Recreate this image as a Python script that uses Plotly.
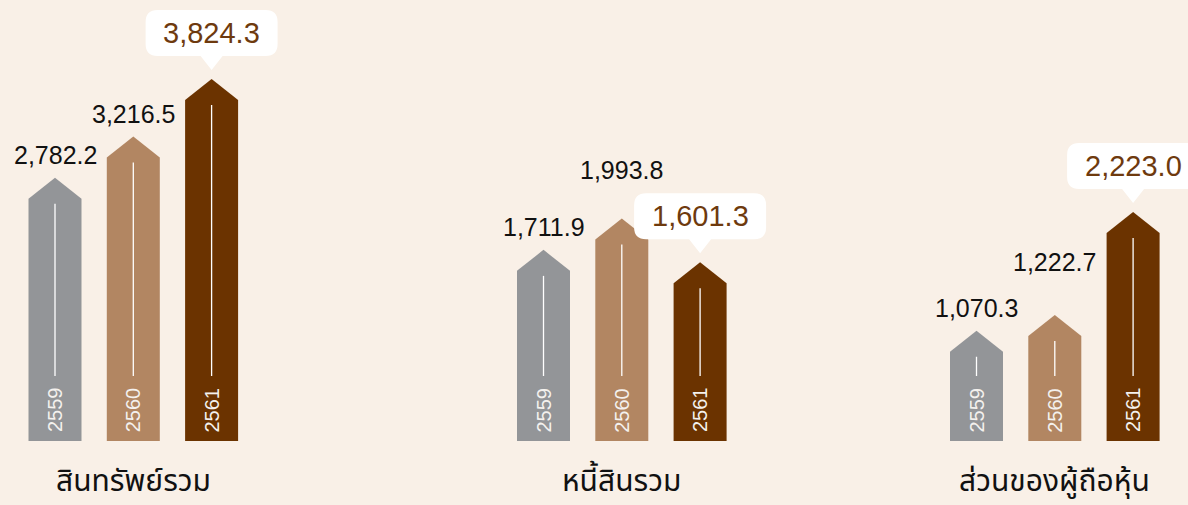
import plotly.graph_objects as go

# ---------------- data ----------------
years = ["2559", "2560", "2561"]
categories = ["สินทรัพย์รวม", "หนี้สินรวม", "ส่วนของผู้ถือหุ้น"]
total_assets = [2782.2, 3216.5, 3824.3]
total_liabilities = [1711.9, 1993.8, 1601.3]
shareholders_equity = [1070.3, 1222.7, 2223.0]
series = [total_assets, total_liabilities, shareholders_equity]

# ---------------- style / layout ----------------
W, H = 1188, 505
BG = "#F9F0E7"
bar_colors = ["#939598", "#B28662", "#6B3300"]
callout_text_color = "#6E3A0E"
FONT = "Liberation Sans, Arial, Helvetica, sans-serif"
THAI_FONT = "Noto Sans Thai, Loma, Garuda, Tlwg Typo, Noto Sans, sans-serif"

BASE_PX = 441            # bar base, pixels from top
first_center_px = [55, 543.5, 976.5]
slot = 78.3              # pixels between bar centres
half_w = 26.5 / slot     # bar half width in category units
y_max = [4660, 3950, 4280]
tip_px = 21
plot_h = BASE_PX
ydom = [(H - BASE_PX) / H, 1.0]
# extra upward offsets (px) for labels lifted clear of neighbours
label_lift = {(1, 1): 25, (2, 1): 30}

fig = go.Figure()
annotations = []
shapes = []
layout_axes = {}

for g, vals in enumerate(series):
    xa = "x" if g == 0 else f"x{g+1}"
    ya = "y" if g == 0 else f"y{g+1}"
    left = first_center_px[g] - slot / 2
    right = min(W, left + 4 * slot)
    xrange_end = -0.5 + (right - left) / slot
    u = y_max[g] / plot_h   # data units per pixel
    suffix = "" if g == 0 else str(g + 1)
    layout_axes[f"xaxis{suffix}"] = dict(domain=[left / W, right / W], range=[-0.5, xrange_end],
                                         visible=False, fixedrange=True)
    layout_axes[f"yaxis{suffix}"] = dict(domain=ydom, range=[0, y_max[g]], visible=False,
                                         fixedrange=True)
    d = tip_px * u
    for i, v in enumerate(vals):
        # arrow-shaped bar
        fig.add_trace(go.Scatter(
            x=[i - half_w, i - half_w, i, i + half_w, i + half_w, i - half_w],
            y=[0, v - d, v, v - d, 0, 0],
            fill="toself", fillcolor=bar_colors[i], mode="lines",
            line=dict(width=0, color=bar_colors[i]), hoverinfo="skip",
            xaxis=xa, yaxis=ya, showlegend=False))
        # white inner line
        fig.add_trace(go.Scatter(
            x=[i, i], y=[65 * u, v - d - 5 * u], mode="lines",
            line=dict(width=1.3, color="white"), hoverinfo="skip",
            xaxis=xa, yaxis=ya, showlegend=False))
        # year label
        annotations.append(dict(x=i, y=31 * u, xref=xa, yref=ya, text=years[i],
                                textangle=-90, showarrow=False,
                                font=dict(family=FONT, size=20, color="#F4F1EE"),
                                xanchor="center", yanchor="middle"))
        label = f"{v:,.1f}"
        if i < 2:
            extra = label_lift.get((g, i), 0)
            annotations.append(dict(x=i, y=v, xref=xa, yref=ya, text=label,
                                    showarrow=False, yanchor="bottom", xanchor="center",
                                    yshift=7 + extra,
                                    font=dict(family=FONT, size=25, color="#111111")))
        else:
            path = ("M 0,9 L 11,23 L 54,23 Q 66,23 66,35 L 66,57 Q 66,69 54,69 "
                    "L -54,69 Q -66,69 -66,57 L -66,35 Q -66,23 -54,23 L -11,23 Z")
            shapes.append(dict(type="path", xref=xa, yref=ya, xsizemode="pixel",
                               ysizemode="pixel", xanchor=i, yanchor=v, path=path,
                               fillcolor="white", line=dict(width=0), layer="above"))
            annotations.append(dict(x=i, y=v, xref=xa, yref=ya, text=label,
                                    showarrow=False, yanchor="middle", xanchor="center",
                                    yshift=46,
                                    font=dict(family=FONT, size=29, color=callout_text_color)))
    # category label
    annotations.append(dict(x=1, y=(H - 482) / H, xref=xa, yref="paper",
                            text=categories[g], showarrow=False,
                            xanchor="center", yanchor="middle",
                            font=dict(family=THAI_FONT, size=30, color="#111111")))

fig.update_layout(
    width=W, height=H,
    margin=dict(l=0, r=0, t=0, b=0),
    paper_bgcolor=BG, plot_bgcolor=BG,
    showlegend=False,
    annotations=annotations, shapes=shapes,
    **layout_axes)

fig.write_html("out.html", config={"displayModeBar": False},
               post_script="document.body.style.margin='0';document.body.style.padding='0';"
                           "document.body.style.background='" + BG + "';")
